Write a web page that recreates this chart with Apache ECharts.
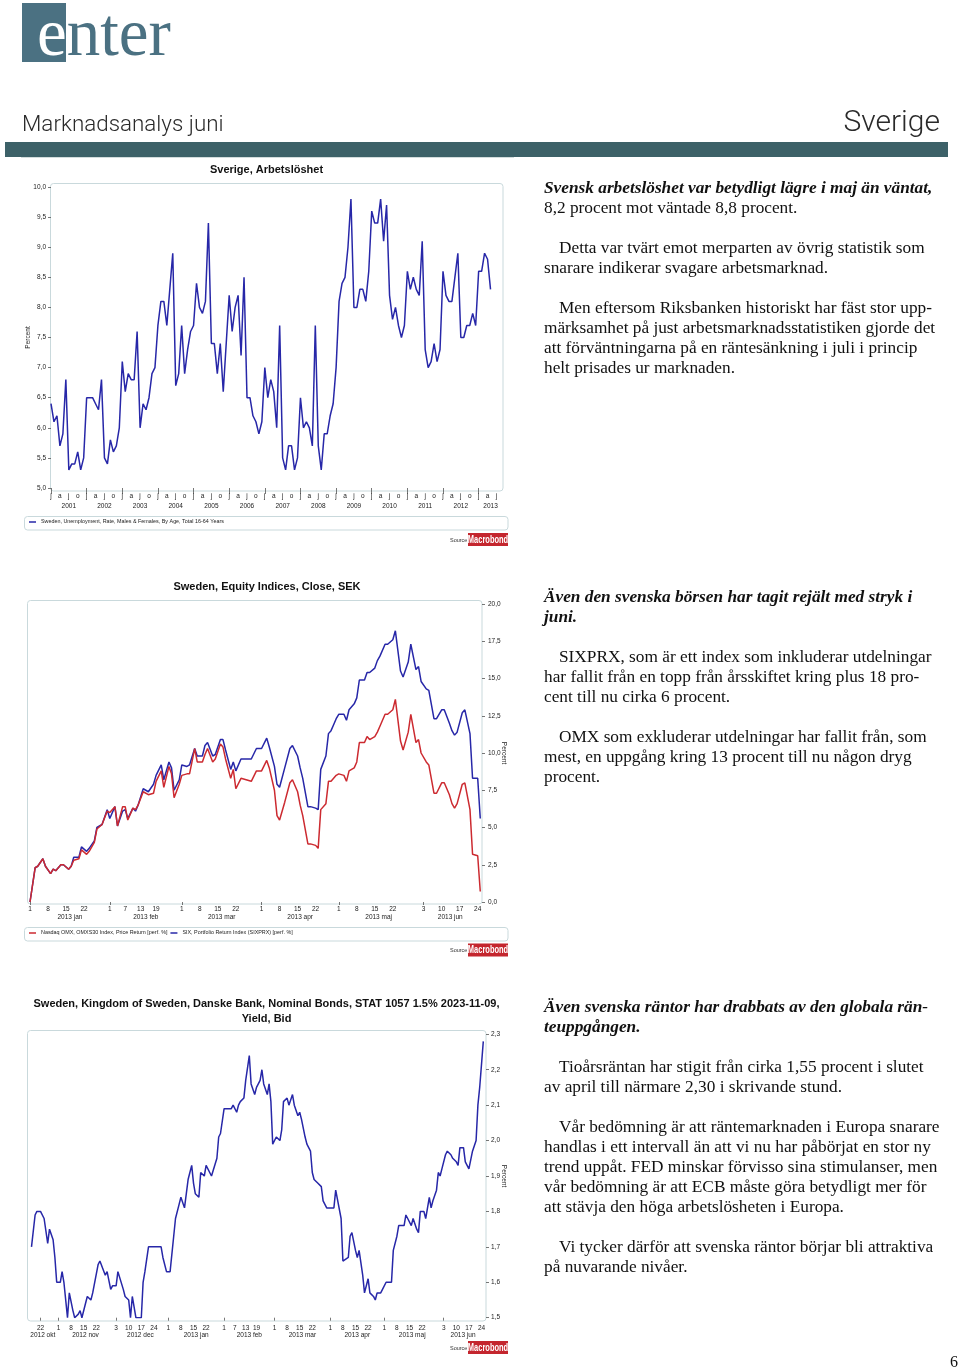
<!DOCTYPE html>
<html>
<head>
<meta charset="utf-8">
<script src="https://cdn.jsdelivr.net/npm/echarts@6/dist/echarts.min.js"></script>
<style>
html,body{margin:0;padding:0;background:#fff;}
#page{position:relative;width:960px;height:1372px;overflow:hidden;background:#fff;}
#chart{position:absolute;left:0;top:0;width:960px;height:1372px;}
.abs{position:absolute;white-space:nowrap;}
.blk{position:absolute;left:544px;width:410px;font-family:'Liberation Serif','Times New Roman',serif;font-size:17.3px;line-height:20px;color:#111;white-space:nowrap;}
.blk p{margin:0 0 20px 0;}
.blk .ind{text-indent:15px;}
.bi{font-weight:bold;font-style:italic;}
</style>
</head>
<body>
<div id="page">
  <div id="chart"></div>
  <div class="abs" style="left:22px;top:3px;width:44px;height:59px;background:#4b7182;"></div>
  <div class="abs" style="left:37px;top:-1px;font:67px/67px 'Liberation Serif','Times New Roman',serif;color:#4b7182;"><span style="color:#fff">e</span>nter</div>
  <div class="abs" style="left:22px;top:112px;font:300 22.4px/22.4px Roboto,'Liberation Sans',sans-serif;color:#2a2a2a;">Marknadsanalys juni</div>
  <div class="abs" style="right:20px;top:106px;font:300 30px/30px Roboto,'Liberation Sans',sans-serif;color:#2a2a2a;">Sverige</div>
  <div class="abs" style="left:5px;top:142px;width:943px;height:15px;background:#3d6168;"></div>
  <div class="abs" style="left:21px;top:157px;width:493px;height:1px;background:#d3dcdc;"></div>

  <div class="blk" style="top:178px;">
    <p><span class="bi">Svensk arbetslöshet var betydligt lägre i maj än väntat,</span><br>8,2 procent mot väntade 8,8 procent.</p>
    <p class="ind">Detta var tvärt emot merparten av övrig statistik som<br>snarare indikerar svagare arbetsmarknad.</p>
    <p class="ind">Men eftersom Riksbanken historiskt har fäst stor upp-<br>märksamhet på just arbetsmarknadsstatistiken gjorde det<br>att förväntningarna på en räntesänkning i juli i princip<br>helt prisades ur marknaden.</p>
  </div>
  <div class="blk" style="top:587px;">
    <p class="bi">Även den svenska börsen har tagit rejält med stryk i<br>juni.</p>
    <p class="ind">SIXPRX, som är ett index som inkluderar utdelningar<br>har fallit från en topp från årsskiftet kring plus 18 pro-<br>cent till nu cirka 6 procent.</p>
    <p class="ind">OMX som exkluderar utdelningar har fallit från, som<br>mest, en uppgång kring 13 procent till nu någon dryg<br>procent.</p>
  </div>
  <div class="blk" style="top:997px;">
    <p class="bi">Även svenska räntor har drabbats av den globala rän-<br>teuppgången.</p>
    <p class="ind">Tioårsräntan har stigit från cirka 1,55 procent i slutet<br>av april till närmare 2,30 i skrivande stund.</p>
    <p class="ind">Vår bedömning är att räntemarknaden i Europa snarare<br>handlas i ett intervall än att vi nu har påbörjat en stor ny<br>trend uppåt. FED minskar förvisso sina stimulanser, men<br>vår bedömning är att ECB måste göra betydligt mer för<br>att stävja den höga arbetslösheten i Europa.</p>
    <p class="ind">Vi tycker därför att svenska räntor börjar bli attraktiva<br>på nuvarande nivåer.</p>
  </div>
  <div class="abs" style="left:950px;top:1352px;font:16px/20px 'Liberation Serif','Times New Roman',serif;color:#111;">6</div>
</div>
<script>
// ---------------- DATA ----------------
// Chart 1: Sweden unemployment, monthly, Jan 2001 - May 2013 (axis runs to Sep 2013)
const unempMonths = (function () {
  const a = [];
  for (let y = 2001; y <= 2013; y++) {
    for (let m = 1; m <= 12; m++) {
      if (y === 2013 && m > 9) break;
      a.push(y + '-' + String(m).padStart(2, '0'));
    }
  }
  return a;
})();
const unempValues = [
  6.4, 6.1, 6.2, 5.7, 5.9, 6.8, 5.3, 5.4, 5.4, 5.6, 5.3, 5.5,
  6.5, 6.5, 6.5, 6.4, 6.3, 6.8, 5.5, 5.4, 5.8, 5.6, 5.7, 6.0,
  7.1, 6.6, 6.9, 6.8, 6.8, 7.6, 6.0, 6.4, 6.3, 6.5, 6.9, 7.0,
  7.7, 8.1, 8.1, 7.7, 8.3, 8.9, 6.7, 6.9, 7.7, 6.9, 7.3, 7.6,
  7.7, 8.4, 8.0, 7.9, 8.1, 9.4, 7.4, 7.4, 6.9, 7.4, 6.6, 7.4,
  8.2, 7.6, 8.0, 8.2, 7.2, 8.5, 6.5, 6.5, 6.2, 6.1, 5.9, 6.1,
  7.0, 6.5, 6.8, 6.6, 6.0, 7.7, 5.5, 5.3, 5.7, 5.7, 5.3, 5.5,
  6.5, 6.0, 6.1, 6.0, 5.7, 7.7, 5.7, 5.3, 5.9, 5.9, 6.2, 6.4,
  7.0, 8.1, 8.4, 8.5, 9.0, 9.8, 8.0, 8.0, 8.3, 8.3, 8.1, 8.6,
  9.6, 9.4, 9.4, 9.8, 9.1, 9.7, 8.2, 7.8, 8.0, 7.7, 7.5, 7.7,
  8.6, 8.3, 8.5, 8.3, 8.2, 9.1, 7.3, 7.0, 7.1, 7.4, 7.1, 7.3,
  8.6, 8.2, 8.1, 8.1, 8.5, 8.9, 7.5, 7.5, 7.7, 7.7, 7.9, 7.7,
  8.6, 8.6, 8.9, 8.8, 8.3
];
const unempName = 'Sweden, Unemployment, Rate, Males & Females, By Age, Total 16-64 Years';

// Chart 2: equity indices, performance since year start (%)
const equityDates = ['2013-01-01','2013-01-03','2013-01-04','2013-01-06','2013-01-07','2013-01-09','2013-01-10','2013-01-11','2013-01-13','2013-01-14','2013-01-16','2013-01-17','2013-01-18','2013-01-20','2013-01-21','2013-01-23','2013-01-24','2013-01-26','2013-01-27','2013-01-29','2013-01-31',
  '2013-02-01','2013-02-03','2013-02-04','2013-02-06','2013-02-07','2013-02-08','2013-02-10','2013-02-11','2013-02-12','2013-02-14','2013-02-16','2013-02-18','2013-02-19','2013-02-21','2013-02-22','2013-02-24','2013-02-25','2013-02-26','2013-02-28',
  '2013-03-01','2013-03-03','2013-03-04','2013-03-06','2013-03-07','2013-03-09','2013-03-10','2013-03-11','2013-03-13','2013-03-14','2013-03-16','2013-03-17','2013-03-18','2013-03-20','2013-03-21','2013-03-22','2013-03-24','2013-03-26','2013-03-28','2013-03-30',
  '2013-04-01','2013-04-03','2013-04-04','2013-04-06','2013-04-07','2013-04-08','2013-04-10','2013-04-12','2013-04-13','2013-04-15','2013-04-16','2013-04-17','2013-04-19','2013-04-20','2013-04-22','2013-04-23','2013-04-24','2013-04-26','2013-04-27','2013-04-28','2013-04-29','2013-04-30',
  '2013-05-01','2013-05-03','2013-05-04','2013-05-05','2013-05-07','2013-05-08','2013-05-09','2013-05-11','2013-05-12','2013-05-13','2013-05-15','2013-05-16','2013-05-17','2013-05-19','2013-05-20','2013-05-22','2013-05-23','2013-05-25','2013-05-26','2013-05-28','2013-05-29','2013-05-31',
  '2013-06-01','2013-06-02','2013-06-04','2013-06-05','2013-06-07','2013-06-08','2013-06-10','2013-06-11','2013-06-13','2013-06-14','2013-06-15','2013-06-16','2013-06-18','2013-06-19','2013-06-21','2013-06-22','2013-06-24','2013-06-25'];
const sixValues = [
  0, 2.3, 2.4, 2.9, 2.4, 1.9, 2.2, 2.1, 2.5, 2.5, 2.2, 2.4, 3.0, 3.0, 3.7, 3.4, 3.6, 4.1, 5.0, 5.2, 6.2,
  5.6, 6.4, 5.1, 6.1, 6.2, 5.6, 6.3, 6.1, 6.5, 7.6, 7.4, 7.9, 8.5, 9.2, 8.2, 9.4, 9.0, 7.5, 8.2,
  9.2, 9.1, 9.2, 10.3, 9.8, 9.8, 10.5, 10.7, 9.8, 9.9, 10.9, 10.9, 10.2, 8.9, 9.4, 8.8, 9.6, 9.6, 9.6, 10.3,
  10.3, 11.0, 10.4, 9.1, 7.9, 7.7, 9.0, 10.3, 10.5, 9.8, 9.0, 8.3, 6.4, 6.4, 6.3, 6.2, 8.9, 9.8, 11.3, 11.5, 11.9, 12.3,
  12.6, 12.6, 12.2, 12.9, 13.3, 13.7, 14.9, 14.9, 15.4, 15.4, 15.7, 16.2, 16.5, 17.3, 17.3, 17.6, 18.2, 15.5, 15.1, 16.1, 17.3, 15.6,
  15.8, 14.8, 14.3, 14.2, 12.3, 12.3, 12.9, 12.9, 12.0, 11.5, 11.2, 11.4, 12.7, 12.9, 11.3, 8.3, 8.3, 5.6
];
const omxValues = [
  0, 2.3, 2.4, 2.9, 2.4, 1.9, 2.2, 2.1, 2.5, 2.5, 2.2, 2.4, 2.8, 2.9, 3.5, 3.2, 3.4, 4.0, 4.9, 5.2, 6.1,
  6.0, 6.4, 5.1, 6.4, 6.4, 5.5, 6.3, 6.2, 6.5, 7.4, 7.2, 7.3, 8.1, 8.8, 7.7, 9.1, 8.6, 7.0, 7.9,
  8.5, 8.6, 8.6, 10.3, 9.4, 9.4, 9.9, 10.3, 9.4, 9.6, 10.6, 10.4, 9.6, 8.3, 8.9, 7.6, 8.3, 8.2, 8.1, 8.8,
  8.8, 9.5, 9.0, 7.5, 5.8, 5.5, 6.7, 8.0, 8.2, 7.4, 6.5, 5.8, 3.9, 3.9, 3.8, 3.6, 6.2, 6.6, 8.1, 8.1, 8.3, 8.5,
  8.6, 8.5, 8.1, 8.8, 9.0, 9.4, 10.7, 10.7, 11.1, 10.9, 11.1, 11.4, 11.8, 12.6, 12.6, 12.9, 13.6, 10.8, 10.2, 11.4, 12.6, 10.7,
  10.9, 10.0, 9.4, 9.2, 7.3, 7.3, 8.0, 8.0, 7.2, 6.6, 6.3, 6.6, 7.9, 8.0, 6.2, 3.2, 3.1, 0.7
];
const omxName = 'Nasdaq OMX, OMXS30 Index, Price Return [perf. %]';
const sixName = 'SIX, Portfolio Return Index (SIXPRX) [perf. %]';
const equityTickDates = ['2013-01-01','2013-01-08','2013-01-15','2013-01-22','2013-02-01','2013-02-07','2013-02-13','2013-02-19','2013-03-01','2013-03-08','2013-03-15','2013-03-22','2013-04-01','2013-04-08','2013-04-15','2013-04-22','2013-05-01','2013-05-08','2013-05-15','2013-05-22','2013-06-03','2013-06-10','2013-06-17','2013-06-24'];
const equityMonths = ['2013-01','2013-02','2013-03','2013-04','2013-05','2013-06'];

// Chart 3: STAT 1057 yield, bid (%)
const bondDates = ['2012-10-17','2012-10-19','2012-10-20','2012-10-22','2012-10-23','2012-10-24','2012-10-26','2012-10-27','2012-10-29','2012-10-30','2012-10-31',
  '2012-11-02','2012-11-03','2012-11-04','2012-11-06','2012-11-07','2012-11-09','2012-11-10','2012-11-12','2012-11-13','2012-11-14','2012-11-16','2012-11-17','2012-11-19','2012-11-20','2012-11-21','2012-11-23','2012-11-24','2012-11-25','2012-11-27','2012-11-28','2012-11-30',
  '2012-12-01','2012-12-03','2012-12-04','2012-12-05','2012-12-07','2012-12-08','2012-12-10','2012-12-11','2012-12-12','2012-12-14','2012-12-15','2012-12-17','2012-12-18','2012-12-19','2012-12-21','2012-12-23','2012-12-28','2012-12-29','2012-12-31',
  '2013-01-02','2013-01-04','2013-01-05','2013-01-07','2013-01-08','2013-01-10','2013-01-11','2013-01-12','2013-01-14','2013-01-15','2013-01-16','2013-01-18','2013-01-19','2013-01-21','2013-01-22','2013-01-23','2013-01-25','2013-01-26','2013-01-28','2013-01-29','2013-01-30',
  '2013-02-01','2013-02-02','2013-02-03','2013-02-05','2013-02-06','2013-02-08','2013-02-09','2013-02-10','2013-02-12','2013-02-13','2013-02-15','2013-02-16','2013-02-18','2013-02-19','2013-02-21','2013-02-22','2013-02-23','2013-02-25','2013-02-26','2013-02-27','2013-02-28',
  '2013-03-02','2013-03-04','2013-03-05','2013-03-06','2013-03-08','2013-03-09','2013-03-11','2013-03-12','2013-03-14','2013-03-15','2013-03-16','2013-03-18','2013-03-19','2013-03-21','2013-03-22','2013-03-23','2013-03-25','2013-03-27','2013-03-28','2013-03-30',
  '2013-04-01','2013-04-03','2013-04-04','2013-04-05','2013-04-07','2013-04-08','2013-04-09','2013-04-11','2013-04-12','2013-04-13','2013-04-15','2013-04-16','2013-04-17','2013-04-19','2013-04-20','2013-04-22','2013-04-23','2013-04-25','2013-04-26','2013-04-27','2013-04-29','2013-04-30',
  '2013-05-02','2013-05-03','2013-05-05','2013-05-06','2013-05-08','2013-05-09','2013-05-10','2013-05-12','2013-05-13','2013-05-14','2013-05-16','2013-05-17','2013-05-19','2013-05-20','2013-05-21','2013-05-23','2013-05-24','2013-05-26','2013-05-27','2013-05-28','2013-05-30','2013-05-31',
  '2013-06-01','2013-06-02','2013-06-04','2013-06-05','2013-06-07','2013-06-08','2013-06-10','2013-06-11','2013-06-12','2013-06-14','2013-06-15','2013-06-17','2013-06-18','2013-06-19','2013-06-21','2013-06-22','2013-06-23','2013-06-24','2013-06-25'];
const bondValues = [
  1.70, 1.79, 1.80, 1.80, 1.80, 1.78, 1.71, 1.75, 1.72, 1.67, 1.60,
  1.60, 1.63, 1.60, 1.50, 1.57, 1.52, 1.50, 1.51, 1.52, 1.50, 1.54, 1.56, 1.55, 1.57, 1.57, 1.65, 1.66, 1.66, 1.62, 1.63, 1.58,
  1.59, 1.59, 1.63, 1.63, 1.58, 1.56, 1.55, 1.50, 1.56, 1.50, 1.50, 1.50, 1.60, 1.63, 1.70, 1.70, 1.70, 1.67, 1.63,
  1.63, 1.73, 1.78, 1.82, 1.84, 1.81, 1.81, 1.89, 1.93, 1.88, 1.85, 1.84, 1.91, 1.90, 1.93, 1.93, 1.90, 1.90, 1.95, 2.01, 2.02,
  2.09, 2.09, 2.09, 2.09, 2.10, 2.08, 2.10, 2.11, 2.12, 2.17, 2.24, 2.16, 2.13, 2.15, 2.17, 2.20, 2.16, 2.13, 2.16, 2.11, 1.99,
  2.01, 2.00, 2.03, 2.11, 2.12, 2.10, 2.13, 2.10, 2.07, 2.08, 2.06, 2.01, 1.99, 1.97, 1.91, 1.89, 1.88, 1.87, 1.83, 1.81,
  1.81, 1.81, 1.86, 1.86, 1.78, 1.66, 1.66, 1.67, 1.73, 1.74, 1.69, 1.67, 1.69, 1.62, 1.57, 1.61, 1.57, 1.56, 1.55, 1.57, 1.57, 1.58,
  1.60, 1.60, 1.60, 1.69, 1.73, 1.76, 1.76, 1.76, 1.79, 1.78, 1.76, 1.78, 1.75, 1.74, 1.80, 1.80, 1.78, 1.84, 1.81, 1.83, 1.86, 1.91,
  1.90, 1.92, 1.96, 1.97, 1.96, 1.95, 1.94, 1.93, 1.98, 1.98, 1.94, 1.92, 1.92, 1.97, 2.00, 2.10, 2.15, 2.15, 2.28
];
const bondName = 'STAT 1057 1.5% 2023-11-09, Yield, Bid';
const bondTickDates = ['2012-10-22','2012-11-01','2012-11-08','2012-11-15','2012-11-22','2012-12-03','2012-12-10','2012-12-17','2012-12-24','2013-01-01','2013-01-08','2013-01-15','2013-01-22','2013-02-01','2013-02-07','2013-02-13','2013-02-19','2013-03-01','2013-03-08','2013-03-15','2013-03-22','2013-04-01','2013-04-08','2013-04-15','2013-04-22','2013-05-01','2013-05-08','2013-05-15','2013-05-22','2013-06-03','2013-06-10','2013-06-17','2013-06-24'];
const bondMonths = ['2012-10','2012-11','2012-12','2013-01','2013-02','2013-03','2013-04','2013-05','2013-06'];

// ---------------- HELPERS ----------------
const svMonth = ['jan','feb','mar','apr','maj','jun','jul','aug','sep','okt','nov','dec'];
const mLetter = ['j','f','m','a','m','j','j','a','s','o','n','d'];
const dn = s => Date.UTC(+s.slice(0, 4), +s.slice(5, 7) - 1, s.length > 7 ? +s.slice(8, 10) : 1) / 864e5;
const fmt1 = v => v.toFixed(1).replace('.', ',');
const dayOfMonth = v => String(new Date(Math.round(v) * 864e5).getUTCDate());
function monthCenters(keys, lo, hi) {
  return keys.map(k => {
    const y = +k.slice(0, 4), m = +k.slice(5, 7);
    const s = Date.UTC(y, m - 1, 1) / 864e5, e = Date.UTC(y, m, 1) / 864e5;
    return (Math.max(s, lo) + Math.min(e, hi)) / 2;
  });
}
function firstOfMonthTicks(dates) {
  const out = []; let last = '';
  dates.forEach(d => { const k = d.slice(0, 7); if (k !== last) { out.push(dn(d)); last = k; } });
  return out;
}
const monthText = k => k.slice(0, 4) + ' ' + svMonth[+k.slice(5, 7) - 1];

const eqBase = dn('2013-01-01'), eqMin = eqBase - 1.17, eqMax = eqBase + 175.67;
const bdBase = dn('2012-10-22'), bdMin = bdBase - 7.5, bdMax = bdBase + 247.5;
const eqMonthPos = monthCenters(equityMonths, eqMin, eqMax);
const bdMonthPos = monthCenters(bondMonths, bdMin, bdMax);

// year label indices for chart 1 (centre of each visible year)
const yearIdx = new Set();
for (let i = 0; i < unempMonths.length; i += 12) {
  const end = Math.min(i + 11, unempMonths.length - 1);
  yearIdx.add(end - i === 11 ? i + 6 : Math.round((i + end) / 2));
}

// ---------------- STYLE ----------------
const FS = '"Liberation Sans",Arial,sans-serif';
const BLUE = '#2727a8', RED = '#cc2a30', FRAME = '#c9d9dc', TXT = '#222';
const lab = (extra) => Object.assign({ fontSize: 6.5, color: TXT, fontFamily: FS }, extra);
const tick = (extra) => Object.assign({ show: true, length: 3, lineStyle: { color: '#555', width: 0.8 } }, extra);

function logo(x, y) {
  return [
    { type: 'text', x: x - 18, y: y + 4, silent: true, style: { text: 'Source:', font: '5.5px ' + FS, fill: '#333' } },
    { type: 'rect', silent: true, shape: { x: x, y: y, width: 40, height: 13 }, style: { fill: '#c4262e' } },
    { type: 'text', x: x + 20, y: y + 6.7, scaleX: 0.68, silent: true, style: { text: 'Macrobond', font: 'bold 11px ' + FS, fill: '#fff', align: 'center', verticalAlign: 'middle', textAlign: 'center', textVerticalAlign: 'middle' } }
  ];
}
function title(text, x, y) {
  return { type: 'text', x: x, y: y, silent: true, style: { text: text, font: 'bold 11px ' + FS, fill: '#111', align: 'center', verticalAlign: 'middle', textAlign: 'center', textVerticalAlign: 'middle' } };
}
function box(x, y, w, h) {
  return { type: 'rect', silent: true, z: -10, shape: { x: x, y: y, width: w, height: h, r: 3 }, style: { fill: 'none', stroke: FRAME, lineWidth: 1 } };
}
const nameStyle = { fontSize: 6.5, color: TXT, fontFamily: FS };

const chart = echarts.init(document.getElementById('chart'), null, { renderer: 'canvas' });
chart.setOption({
  animation: false,
  backgroundColor: 'transparent',
  grid: [
    { left: 51, top: 187, width: 451.4, height: 301, outerBoundsMode: 'none' },
    { left: 27, top: 604, width: 455, height: 298, outerBoundsMode: 'none' },
    { left: 27, top: 1034.3, width: 459, height: 283.4, outerBoundsMode: 'none' }
  ],
  xAxis: [
    { gridIndex: 0, type: 'category', position: 'bottom', data: unempMonths, boundaryGap: false, axisLine: { show: false }, splitLine: { show: false },
      axisTick: tick({ interval: i => i % 12 === 0, length: 6 }),
      axisLabel: lab({ interval: i => i % 3 === 0, formatter: v => mLetter[+v.slice(5, 7) - 1], margin: 5 }) },
    { gridIndex: 0, type: 'category', position: 'bottom', offset: 0, data: unempMonths, boundaryGap: false, axisLine: { show: false }, axisTick: { show: false }, splitLine: { show: false },
      axisLabel: lab({ interval: i => yearIdx.has(i), formatter: v => v.slice(0, 4), margin: 15 }) },
    { gridIndex: 1, type: 'value', position: 'bottom', min: eqMin, max: eqMax, axisLine: { show: false }, splitLine: { show: false },
      axisTick: tick({ customValues: firstOfMonthTicks(equityTickDates) }),
      axisLabel: lab({ customValues: equityTickDates.map(dn), formatter: dayOfMonth, margin: 4 }) },
    { gridIndex: 1, type: 'value', position: 'bottom', offset: 0, min: eqMin, max: eqMax, axisLine: { show: false }, axisTick: { show: false }, splitLine: { show: false },
      axisLabel: lab({ customValues: eqMonthPos, formatter: v => monthText(equityMonths[eqMonthPos.findIndex(p => Math.abs(p - v) < 1e-6)]), margin: 11.5 }) },
    { gridIndex: 2, type: 'value', position: 'bottom', min: bdMin, max: bdMax, axisLine: { show: false }, splitLine: { show: false },
      axisTick: tick({ customValues: firstOfMonthTicks(bondTickDates) }),
      axisLabel: lab({ customValues: bondTickDates.map(dn), formatter: dayOfMonth, margin: 7 }) },
    { gridIndex: 2, type: 'value', position: 'bottom', offset: 0, min: bdMin, max: bdMax, axisLine: { show: false }, axisTick: { show: false }, splitLine: { show: false },
      axisLabel: lab({ customValues: bdMonthPos, formatter: v => monthText(bondMonths[bdMonthPos.findIndex(p => Math.abs(p - v) < 1e-6)]), margin: 14.5 }) }
  ],
  yAxis: [
    { gridIndex: 0, type: 'value', position: 'left', min: 5, max: 10, interval: 0.5, axisLine: { show: false }, splitLine: { show: false },
      axisTick: tick({}), axisLabel: lab({ formatter: fmt1, margin: 5 }),
      name: 'Percent', nameLocation: 'middle', nameGap: 19, nameRotate: 90, nameMoveOverlap: false, nameTextStyle: nameStyle },
    { gridIndex: 1, type: 'value', position: 'right', min: 0, max: 20, interval: 2.5, axisLine: { show: false }, splitLine: { show: false },
      axisTick: tick({}), axisLabel: lab({ formatter: fmt1, margin: 6 }),
      name: 'Percent', nameLocation: 'middle', nameGap: 18, nameRotate: -90, nameMoveOverlap: false, nameTextStyle: nameStyle },
    { gridIndex: 2, type: 'value', position: 'right', min: 1.5, max: 2.3, interval: 0.1, axisLine: { show: false }, splitLine: { show: false },
      axisTick: tick({}), axisLabel: lab({ formatter: fmt1, margin: 5 }),
      name: 'Percent', nameLocation: 'middle', nameGap: 14, nameRotate: -90, nameMoveOverlap: false, nameTextStyle: nameStyle }
  ],
  legend: [
    { data: [unempName], left: 29, top: 519.5, orient: 'horizontal', icon: 'rect', itemWidth: 7, itemHeight: 1.5, itemGap: 4, padding: 0, selectedMode: false,
      textStyle: { fontSize: 5.4, color: TXT, fontFamily: FS } },
    { data: [omxName, sixName], left: 29, top: 930.5, orient: 'horizontal', icon: 'rect', itemWidth: 7, itemHeight: 1.5, itemGap: 3, padding: 0, selectedMode: false,
      textStyle: { fontSize: 5.4, color: TXT, fontFamily: FS } }
  ],
  series: [
    { name: unempName, type: 'line', xAxisIndex: 0, yAxisIndex: 0, data: unempValues, showSymbol: false, symbol: 'none',
      lineStyle: { width: 1.5, color: BLUE }, itemStyle: { color: BLUE }, z: 3 },
    { name: omxName, type: 'line', xAxisIndex: 2, yAxisIndex: 1, data: equityDates.map((d, i) => [dn(d), omxValues[i]]), showSymbol: false, symbol: 'none',
      lineStyle: { width: 1.5, color: RED }, itemStyle: { color: RED }, z: 3 },
    { name: sixName, type: 'line', xAxisIndex: 2, yAxisIndex: 1, data: equityDates.map((d, i) => [dn(d), sixValues[i]]), showSymbol: false, symbol: 'none',
      lineStyle: { width: 1.5, color: BLUE }, itemStyle: { color: BLUE }, z: 2 },
    { name: bondName, type: 'line', xAxisIndex: 4, yAxisIndex: 2, data: bondDates.map((d, i) => [dn(d), bondValues[i]]), showSymbol: false, symbol: 'none',
      lineStyle: { width: 1.5, color: BLUE }, itemStyle: { color: BLUE }, z: 3 }
  ],
  graphic: { elements: [
    box(50.5, 183.5, 452.5, 307.5),
    box(27.5, 600.5, 454.5, 303.5),
    box(27.5, 1030.5, 458.5, 290.5),
    box(24.5, 516.5, 483.5, 13.5),
    box(24.5, 927.5, 483.5, 13.5),
    title('Sverige, Arbetslöshet', 266.5, 170),
    title('Sweden, Equity Indices, Close, SEK', 267, 587),
    title('Sweden, Kingdom of Sweden, Danske Bank, Nominal Bonds, STAT 1057 1.5% 2023-11-09,', 266.5, 1004),
    title('Yield, Bid', 266.5, 1019)
  ].concat(logo(468, 533), logo(468, 943.5), logo(468, 1341)) }
});
</script>
</body>
</html>
